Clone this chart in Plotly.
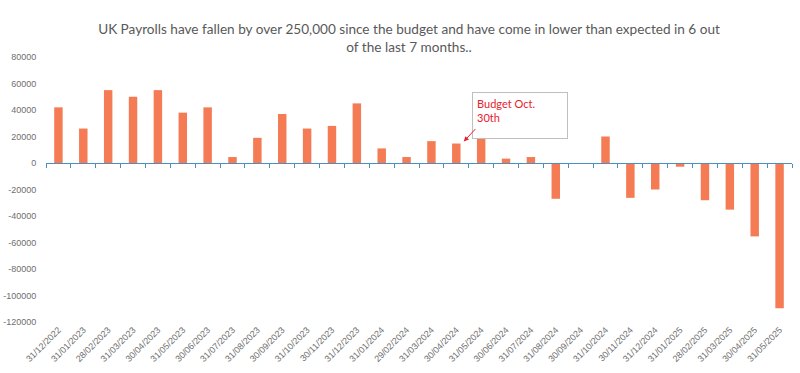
import plotly.graph_objects as go

dates = ["31/12/2022", "31/01/2023", "28/02/2023", "31/03/2023", "30/04/2023", "31/05/2023",
         "30/06/2023", "31/07/2023", "31/08/2023", "30/09/2023", "31/10/2023", "30/11/2023",
         "31/12/2023", "31/01/2024", "29/02/2024", "31/03/2024", "30/04/2024", "31/05/2024",
         "30/06/2024", "31/07/2024", "31/08/2024", "30/09/2024", "31/10/2024", "30/11/2024",
         "31/12/2024", "31/01/2025", "28/02/2025", "31/03/2025", "30/04/2025", "31/05/2025"]
payroll_change = [42000, 26000, 55000, 50000, 55000, 38000,
                  42000, 4500, 19000, 37000, 26000, 28000,
                  45000, 11000, 4500, 16500, 14700, 19500,
                  3300, 4500, -27000, -500, 20000, -26300,
                  -20000, -2800, -28100, -35200, -55400, -109600]
y_tick_vals = [80000, 60000, 40000, 20000, 0, -20000, -40000, -60000, -80000, -100000, -120000]
y_tick_labels = ["80000", "60000", "40000", "20000", "0", "-20000", "-40000", "-60000",
                 "-80000", "-100000", "-120000"]

title_text = ("UK Payrolls have fallen by over 250,000 since the budget and have come in lower than expected in 6 out"
              "<br>of the last 7 months..")

y_min, y_max = -120000, 80000
zero_pos = (0 - y_min) / (y_max - y_min)

W, H = 800, 373
ML, MR, MT, MB = 46, 8, 57, 51
PW, PH = W - ML - MR, H - MT - MB

fig = go.Figure()
fig.add_trace(go.Bar(x=dates, y=payroll_change, marker_color="#f47b53",
                     marker_line_width=0, showlegend=False))
# invisible helper trace so the zero-level axis with boundary ticks renders
fig.add_trace(go.Scatter(x=dates, y=[0] * len(dates), xaxis="x2", mode="markers",
                         marker=dict(opacity=0), showlegend=False, hoverinfo="skip"))

fig.update_layout(
    width=W, height=H,
    margin=dict(l=ML, r=MR, t=MT, b=MB, autoexpand=False),
    paper_bgcolor="white", plot_bgcolor="white",
    font=dict(family="Liberation Sans, Arial", color="#595959", size=9),
    title=dict(text=title_text, x=(409 - ML) / PW, xref="paper", xanchor="center",
               y=1 - 34 / H, yanchor="top",
               font=dict(family="Lato", size=13.6, color="#595959")),
    bargap=0.66,
    xaxis=dict(type="category", categoryorder="array", categoryarray=dates,
               range=[-0.5, len(dates) - 0.5], tickangle=-45, showline=False, ticks="",
               showgrid=False, automargin=False, tickfont=dict(size=9, color="#6f6f6f")),
    xaxis2=dict(type="category", categoryorder="array", categoryarray=dates,
                range=[-0.5, len(dates) - 0.5], overlaying="x", anchor="free",
                position=zero_pos, showline=True, linecolor="#4a8fbd", linewidth=1,
                ticks="outside", tickson="boundaries", ticklen=4, tickcolor="#4a8fbd",
                showticklabels=False, showgrid=False),
    yaxis=dict(range=[y_min, y_max], tickvals=y_tick_vals, ticktext=y_tick_labels,
               showgrid=False, zeroline=False, showline=False, automargin=False,
               ticks="outside", ticklen=7, tickcolor="rgba(0,0,0,0)",
               tickfont=dict(size=9, color="#6f6f6f")),
)

fig.add_annotation(
    xref="paper", yref="paper", x=(472 - ML) / PW, y=1 - (92 - MT) / PH,
    xanchor="left", yanchor="top", align="left", valign="top",
    text="Budget Oct.<br>30th", showarrow=False,
    font=dict(family="Lato", size=11, color="#e8212e"),
    bordercolor="#bfbfbf", borderwidth=1, borderpad=4, bgcolor="white",
    width=86, height=37,
)
fig.add_annotation(
    xref="x", yref="y", x=16.3, y=14700 + 1500, text="", showarrow=True,
    ax=13, ay=-14, arrowhead=2, arrowsize=1, arrowwidth=1, arrowcolor="#e8212e",
)

fig.write_html("out.html", config={"displayModeBar": False},
               post_script="document.body.style.margin='0';document.body.style.padding='0';")
